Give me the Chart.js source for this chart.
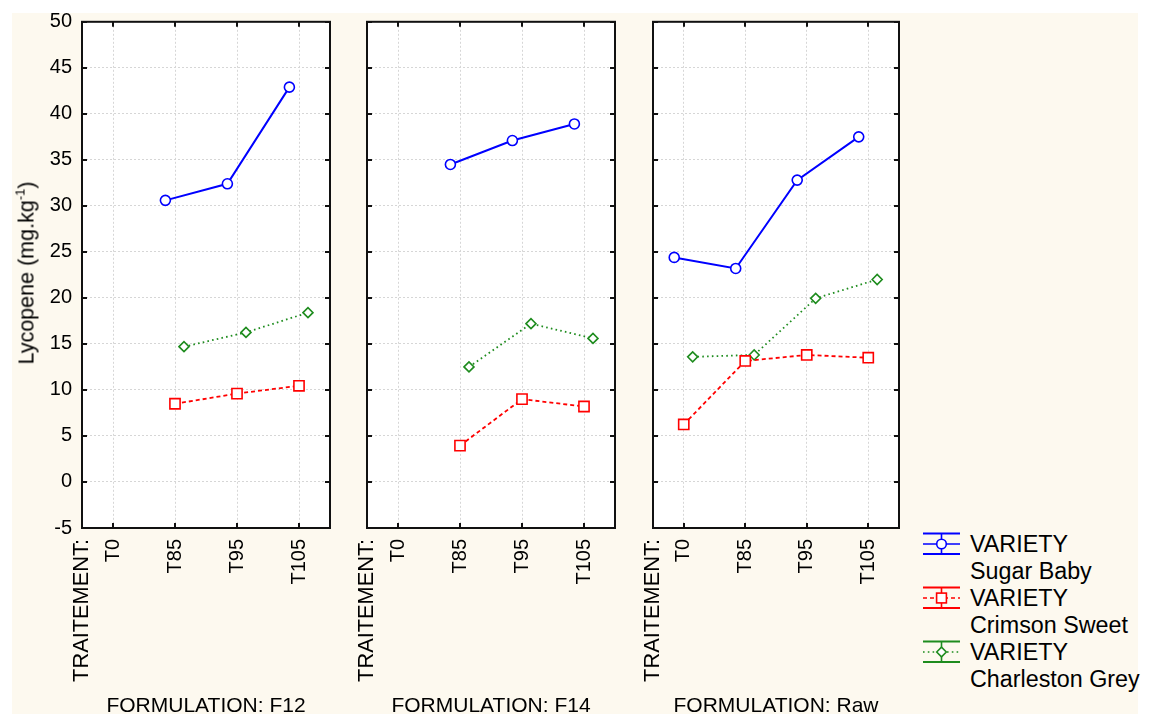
<!DOCTYPE html>
<html>
<head>
<meta charset="utf-8">
<script src="https://cdn.jsdelivr.net/npm/chart.js@4.4.1/dist/chart.umd.min.js"></script>
<style>
  html, body { margin: 0; padding: 0; background: #ffffff; overflow: hidden; }
  body { width: 1149px; height: 716px; position: relative; font-family: "Liberation Sans", Arial, sans-serif; }
  #bg { position: absolute; left: 12px; top: 13px; width: 1126px; height: 701px; background: #fdf9ef; }
  canvas { position: absolute; }
  #ytitle { position: absolute; left: 26px; top: 273px; transform: translate(-50%, -50%) rotate(-90deg);
            font-size: 21.5px; white-space: nowrap; color: #000; }
  #ytitle sup { font-size: 13px; vertical-align: 9px; }
  #legend { position: absolute; left: 923px; top: 531px; }
  .lg-row { position: relative; height: 54px; }
  .lg-row svg { position: absolute; left: 0; top: 0.5px; }
  .lg-text { position: absolute; left: 47px; top: 0; font-size: 23.3px; line-height: 27px; white-space: nowrap; color: #000; }
</style>
</head>
<body>
<div id="bg"></div>
<canvas id="c1" width="335" height="703" style="left:12px;top:13px"></canvas>
<canvas id="c2" width="285" height="703" style="left:347px;top:13px"></canvas>
<canvas id="c3" width="285" height="703" style="left:632px;top:13px"></canvas>
<div id="ytitle">Lycopene (mg.kg<sup>-1</sup>)</div>
<div id="legend"></div>
<script>
// ---------- data ----------
const factorLabel = 'TRAITEMENT:';
const categories = ['T0', 'T85', 'T95', 'T105'];
const formulations = ['F12', 'F14', 'Raw'];
const seriesNames = ['Sugar Baby', 'Crimson Sweet', 'Charleston Grey'];

const sugarBabyF12 = [null, 30.6, 32.4, 42.9];
const sugarBabyF14 = [null, 34.5, 37.1, 38.9];
const sugarBabyRaw = [24.4, 23.2, 32.8, 37.5];

const crimsonSweetF12 = [null, 8.5, 9.6, 10.45];
const crimsonSweetF14 = [null, 3.95, 9.0, 8.2];
const crimsonSweetRaw = [6.25, 13.15, 13.8, 13.5];

const charlestonGreyF12 = [null, 14.7, 16.25, 18.4];
const charlestonGreyF14 = [null, 12.5, 17.2, 15.6];
const charlestonGreyRaw = [13.6, 13.8, 19.95, 22.0];

const yTicks = [-5, 0, 5, 10, 15, 20, 25, 30, 35, 40, 45, 50];

// ---------- styles ----------
const FONT = "'Liberation Sans', Arial, sans-serif";
const seriesStyles = [
  { color: '#0000ff', dash: [], width: 2, point: 'circle', radius: 5, dx: -0.155 },
  { color: '#ff0000', dash: [4, 3], width: 1.8, point: 'rect', radius: 7.2, dx: 0 },
  { color: '#1e8c1e', dash: [1.6, 3.2], width: 1.8, point: 'rectRot', radius: 5, dx: 0.145 }
];
const panelValues = [
  [sugarBabyF12, crimsonSweetF12, charlestonGreyF12],
  [sugarBabyF14, crimsonSweetF14, charlestonGreyF14],
  [sugarBabyRaw, crimsonSweetRaw, charlestonGreyRaw]
];

const framePlugin = {
  id: 'frame',
  beforeDraw(chart) {
    const { ctx, chartArea: a } = chart;
    ctx.save();
    ctx.fillStyle = '#ffffff';
    ctx.fillRect(a.left, a.top, a.right - a.left, a.bottom - a.top);
    ctx.restore();
  },
  afterDraw(chart) {
    const { ctx, chartArea: a, scales } = chart;
    ctx.save();
    ctx.strokeStyle = '#111';
    ctx.lineWidth = 2;
    ctx.beginPath();
    const L = 5;
    scales.y.ticks.forEach(t => {
      const y = Math.round(scales.y.getPixelForValue(t.value));
      ctx.moveTo(a.left, y); ctx.lineTo(a.left + L, y);
      ctx.moveTo(a.right, y); ctx.lineTo(a.right - L, y);
    });
    scales.x.ticks.forEach(t => {
      if (t.value < 0) return;
      const x = Math.round(scales.x.getPixelForValue(t.value));
      ctx.moveTo(x, a.bottom); ctx.lineTo(x, a.bottom - L);
      ctx.moveTo(x, a.top); ctx.lineTo(x, a.top + L);
    });
    ctx.stroke();
    ctx.strokeRect(a.left, a.top, a.right - a.left, a.bottom - a.top);
    ctx.restore();
  }
};

function makePanel(canvasId, p, yAxisWidth, padRight, showYLabels) {
  const datasets = seriesStyles.map((st, s) => ({
    label: seriesNames[s],
    data: panelValues[p][s]
      .map((v, i) => ({ x: i + st.dx, y: v }))
      .filter(pt => pt.y !== null),
    borderColor: st.color,
    backgroundColor: '#ffffff',
    borderWidth: st.width,
    borderDash: st.dash,
    pointStyle: st.point,
    pointRadius: st.radius,
    pointBorderWidth: 1.6,
    pointBorderColor: st.color,
    pointBackgroundColor: '#ffffff',
    tension: 0,
    fill: false
  }));

  return new Chart(document.getElementById(canvasId), {
    type: 'line',
    data: { datasets },
    plugins: [framePlugin],
    options: {
      responsive: false,
      animation: false,
      devicePixelRatio: 1,
      layout: { padding: { top: 8, right: padRight, left: 0, bottom: 0 } },
      plugins: { legend: { display: false }, tooltip: { enabled: false } },
      scales: {
        x: {
          type: 'linear',
          min: -0.5,
          max: categories.length - 0.5,
          afterBuildTicks: sc => {
            sc.ticks = [{ value: -0.5 }].concat(categories.map((c, i) => ({ value: i })));
          },
          afterFit: sc => {
            sc.height = 703 - 8 - 507;
            sc.paddingLeft = 0; sc.paddingRight = 0;
          },
          ticks: {
            autoSkip: false,
            minRotation: 90,
            maxRotation: 90,
            padding: 11,
            color: '#000',
            font: ctx => ({ family: FONT, size: (ctx.tick && ctx.tick.value < 0) ? 21.8 : 20 }),
            callback: v => (v < 0 ? factorLabel : categories[Math.round(v)])
          },
          grid: {
            drawTicks: false,
            color: ctx => (ctx.tick && ctx.tick.value < 0 ? 'rgba(0,0,0,0)' : '#d6d6d6'),
            lineWidth: 1
          },
          border: { display: false, dash: [2, 2] },
          title: {
            display: true,
            text: 'FORMULATION: ' + formulations[p],
            color: '#000',
            font: { family: FONT, size: 21 },
            padding: { top: 0, bottom: -3 }
          }
        },
        y: {
          type: 'linear',
          min: -5,
          max: 50,
          afterBuildTicks: sc => { sc.ticks = yTicks.map(v => ({ value: v })); },
          afterFit: sc => {
            sc.width = yAxisWidth;
            sc.paddingTop = 0; sc.paddingBottom = 0;
          },
          ticks: {
            display: showYLabels,
            padding: 10,
            color: '#000',
            font: { family: FONT, size: 20 }
          },
          grid: { drawTicks: false, color: '#d6d6d6', lineWidth: 1 },
          border: { display: false, dash: [2, 2] }
        }
      }
    }
  });
}

makePanel('c1', 0, 70, 17, true);
makePanel('c2', 1, 20, 17, false);
makePanel('c3', 2, 21, 18, false);

// ---------- legend ----------
const legend = document.getElementById('legend');
seriesStyles.forEach((st, s) => {
  const row = document.createElement('div');
  row.className = 'lg-row';
  const dash = st.dash.length ? st.dash.join(',') : 'none';
  let marker;
  if (st.point === 'circle') {
    marker = `<circle cx="18.5" cy="12" r="4.8" fill="#fff" stroke="${st.color}" stroke-width="1.6"/>`;
  } else if (st.point === 'rect') {
    marker = `<rect x="13.6" y="7.1" width="9.8" height="9.8" fill="#fff" stroke="${st.color}" stroke-width="1.6"/>`;
  } else {
    marker = `<polygon points="13.7,12 18.5,7.2 23.3,12 18.5,16.8" fill="#fff" stroke="${st.color}" stroke-width="1.6"/>`;
  }
  row.innerHTML =
    `<svg width="38" height="24" viewBox="0 0 38 24">
       <line x1="0" y1="1.5" x2="37" y2="1.5" stroke="${st.color}" stroke-width="2"/>
       <line x1="0" y1="22" x2="37" y2="22" stroke="${st.color}" stroke-width="2"/>
       <line x1="18.5" y1="1.5" x2="18.5" y2="22" stroke="${st.color}" stroke-width="1.6"/>
       <line x1="0" y1="12" x2="37" y2="12" stroke="${st.color}" stroke-width="1.6" stroke-dasharray="${dash}"/>
       ${marker}
     </svg>
     <div class="lg-text">VARIETY<br>${seriesNames[s]}</div>`;
  legend.appendChild(row);
});
</script>
</body>
</html>
